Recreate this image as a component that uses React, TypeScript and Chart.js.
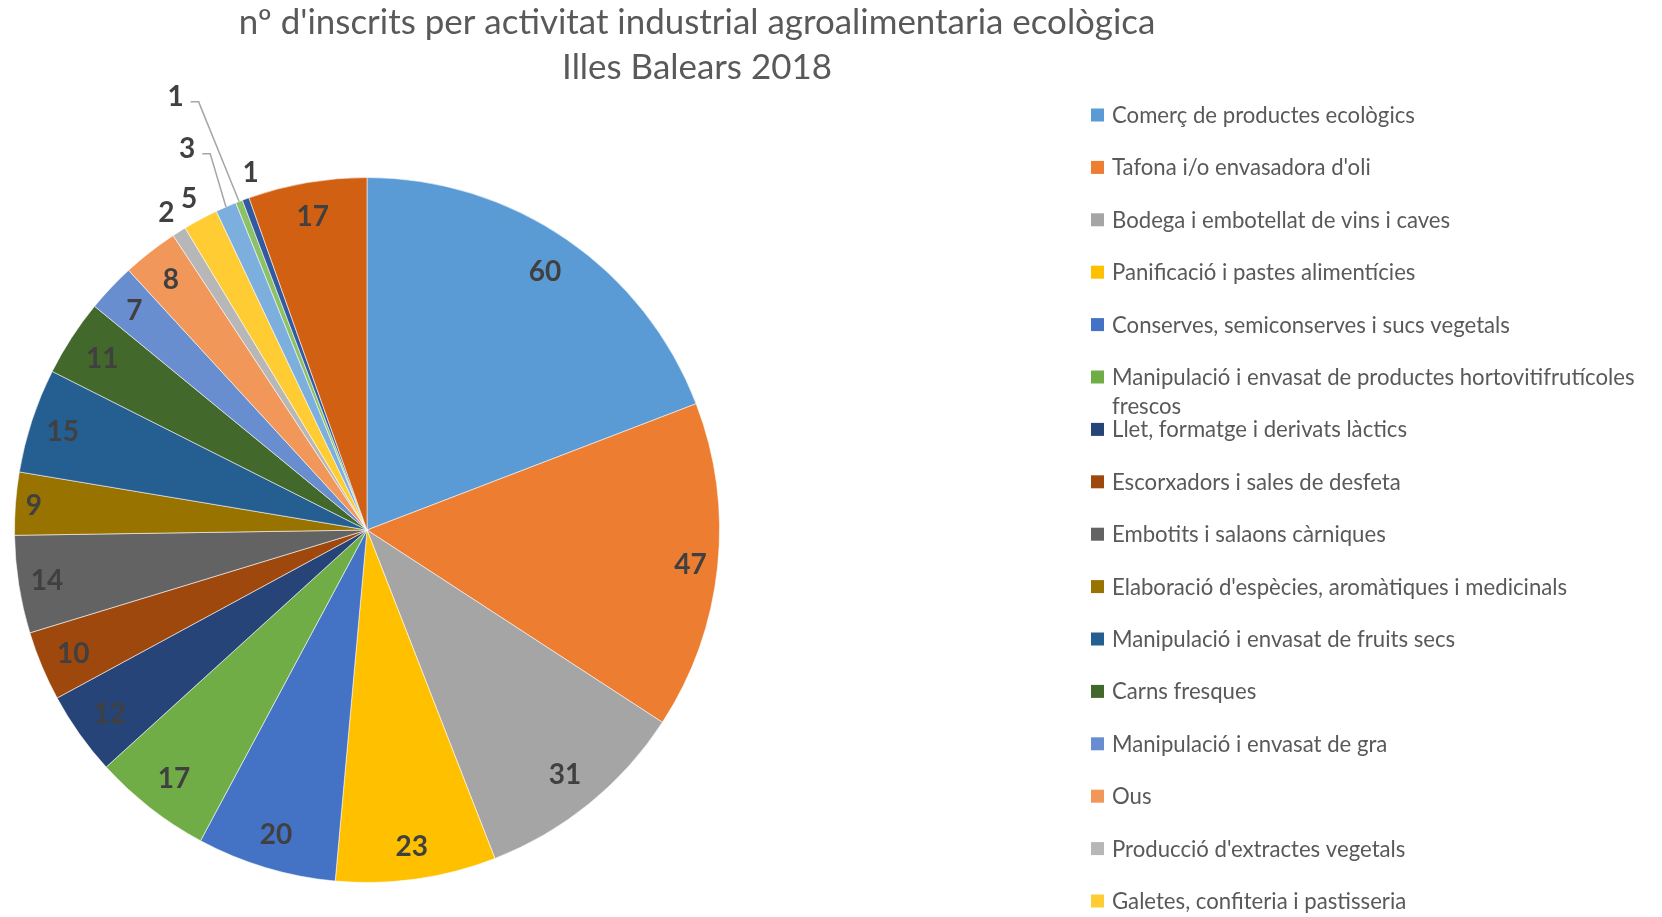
import React, { useEffect, useRef } from "react";
import { Chart, registerables } from "chart.js";

Chart.register(...registerables);

const TITLE_LINES = [
  "nº d'inscrits per activitat industrial agroalimentaria ecològica",
  "Illes Balears 2018",
];

const CATEGORIES = [
  "Comerç de productes ecològics",
  "Tafona i/o envasadora d'oli",
  "Bodega i embotellat de vins i caves",
  "Panificació i pastes alimentícies",
  "Conserves, semiconserves i sucs vegetals",
  "Manipulació i envasat de productes hortovitifrutícoles frescos",
  "Llet, formatge i derivats làctics",
  "Escorxadors i sales de desfeta",
  "Embotits i salaons càrniques",
  "Elaboració d'espècies, aromàtiques i medicinals",
  "Manipulació i envasat de fruits secs",
  "Carns fresques",
  "Manipulació i envasat de gra",
  "Ous",
  "Producció d'extractes vegetals",
  "Galetes, confiteria i pastisseria",
  "Fabricació de pinsos",
  "Envasat de mel",
  "Elaboració de begudes",
  "Altres activitats",
];

const VALUES = [60, 47, 31, 23, 20, 17, 12, 10, 14, 9, 15, 11, 7, 8, 2, 5, 3, 1, 1, 17];

const COLORS = [
  "#5B9BD5", "#ED7D31", "#A5A5A5", "#FFC000", "#4472C4",
  "#70AD47", "#264478", "#9E480E", "#636363", "#997300",
  "#255E91", "#43682B", "#698ED0", "#F1975A", "#B7B7B7",
  "#FFCD33", "#7CAFDD", "#8CC168", "#335AA1", "#D26012",
];

// label placement style per slice
const LABEL_MODE = [
  "in", "in", "in", "in", "in", "in", "in", "in", "in", "in",
  "in", "in", "in", "in", "out", "out", "lead", "lead", "fixed", "in",
];
const PLACED: Record<number, { angle: number; extra: number }> = {
  16: { angle: 334.8, extra: 70 },
  17: { angle: 336.2, extra: 122 },
  18: { angle: 342.0, extra: 24 },
};

const FONT = "Lato, 'Open Sans', sans-serif";
const TEXT_GRAY = "#595959";
const LABEL_GRAY = "#404040";

function fitSize(ctx: CanvasRenderingContext2D, text: string, target: number, weight = "") {
  ctx.font = `${weight} 100px ${FONT}`;
  const w = ctx.measureText(text).width;
  return (100 * target) / w;
}

const overlayPlugin = {
  id: "overlay",
  afterDatasetsDraw(chart: any) {
    const ctx: CanvasRenderingContext2D = chart.ctx;
    const meta = chart.getDatasetMeta(0);
    const data = chart.data.datasets[0].data as number[];
    ctx.save();
    const fs = 28;
    ctx.font = `bold ${fs}px ${FONT}`;
    ctx.fillStyle = LABEL_GRAY;
    ctx.textAlign = "center";
    ctx.textBaseline = "alphabetic";
    meta.data.forEach((arc: any, i: number) => {
      const { x, y, startAngle, endAngle, outerRadius } = arc.getProps(
        ["x", "y", "startAngle", "endAngle", "outerRadius"],
        true
      );
      const mid = (startAngle + endAngle) / 2;
      const txt = String(data[i]);
      const tw = ctx.measureText(txt).width;
      const ca = Math.cos(mid);
      const sa = Math.sin(mid);
      let lx: number, ly: number;
      const mode = LABEL_MODE[i];
      if (mode === "in") {
        const inset = (tw / 2 + 8) * Math.abs(ca) + 30 * Math.abs(sa);
        const d = outerRadius - inset;
        lx = x + ca * d;
        ly = y + sa * d;
      } else if (mode === "out") {
        const d = outerRadius + 24;
        lx = x + ca * d;
        ly = y + sa * d;
      } else {
        const L = PLACED[i];
        const a = ((L.angle - 90) * Math.PI) / 180;
        const d = outerRadius + L.extra;
        lx = x + Math.cos(a) * d;
        ly = y + Math.sin(a) * d;
        if (mode === "lead") {
          ctx.save();
          ctx.strokeStyle = "#A6A6A6";
          ctx.lineWidth = 1.5;
          ctx.beginPath();
          const sx = lx + tw / 2 + 7;
          const sy = ly + 6;
          ctx.moveTo(sx, sy);
          ctx.lineTo(sx + 8, sy);
          ctx.lineTo(x + ca * outerRadius, y + sa * outerRadius);
          ctx.stroke();
          ctx.restore();
        }
      }
      ctx.fillText(txt, lx, ly + 0.36 * fs);
    });
    ctx.restore();
  },
  afterDraw(chart: any) {
    const ctx: CanvasRenderingContext2D = chart.ctx;
    ctx.save();
    // Title
    const ts = fitSize(ctx, TITLE_LINES[0], 917);
    ctx.font = `${ts}px ${FONT}`;
    ctx.fillStyle = TEXT_GRAY;
    ctx.textAlign = "center";
    ctx.textBaseline = "alphabetic";
    ctx.fillText(TITLE_LINES[0], 697, 34);
    ctx.fillText(TITLE_LINES[1], 697, 79);

    // Legend
    const labels = chart.data.labels as string[];
    const colors = chart.data.datasets[0].backgroundColor as string[];
    const ls = fitSize(ctx, "Comerç de productes ecològics", 303);
    ctx.font = `${ls}px ${FONT}`;
    ctx.textAlign = "left";
    const x0 = 1091;
    const tx = 1112;
    const maxW = 540;
    const cap = 0.72 * ls;
    labels.forEach((lab, i) => {
      const cy = 115 + 52.4 * i;
      ctx.fillStyle = colors[i];
      ctx.fillRect(x0, cy - 6.5, 13, 13);
      ctx.fillStyle = TEXT_GRAY;
      const words = lab.split(" ");
      const lines: string[] = [];
      let cur = "";
      words.forEach((w) => {
        const test = cur ? cur + " " + w : w;
        if (ctx.measureText(test).width > maxW && cur) {
          lines.push(cur);
          cur = w;
        } else cur = test;
      });
      if (cur) lines.push(cur);
      lines.forEach((ln, k) => {
        ctx.fillText(ln, tx, cy + cap / 2 + k * 29);
      });
    });
    ctx.restore();
  },
};

export default function App() {
  const ref = useRef<HTMLCanvasElement | null>(null);
  useEffect(() => {
    if (!ref.current) return;
    const chart = new Chart(ref.current, {
      type: "pie",
      data: {
        labels: CATEGORIES,
        datasets: [
          {
            data: VALUES,
            backgroundColor: COLORS,
            borderColor: "rgba(255,255,255,0.55)",
            borderWidth: 1,
          },
        ],
      },
      options: {
        responsive: false,
        animation: false,
        layout: { padding: { left: 14, right: 942, top: 177, bottom: 34 } },
        plugins: {
          legend: { display: false },
          title: { display: false },
          tooltip: { enabled: false },
        },
      },
      plugins: [overlayPlugin],
    });
    return () => chart.destroy();
  }, []);
  return (
    <div style={{ position: "fixed", left: 0, top: 0, width: 1662, height: 917, background: "#fff", overflow: "hidden" }}>
      <canvas ref={ref} width={1662} height={917} style={{ display: "block" }} />
    </div>
  );
}
